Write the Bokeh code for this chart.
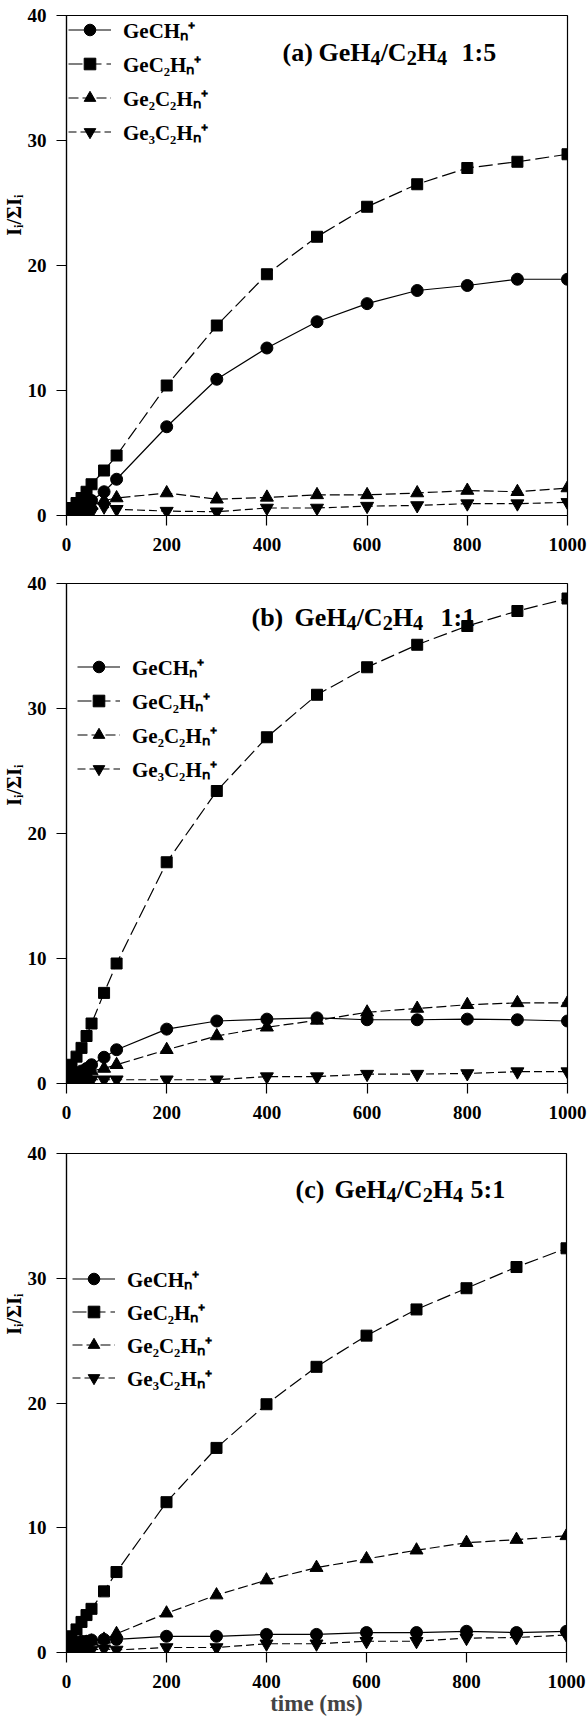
import math
from bokeh.plotting import figure
from bokeh.layouts import column
from bokeh.models import FixedTicker, Label, Legend, LegendItem, Title
from bokeh.embed import file_html
from bokeh.resources import INLINE

# ---------------- data ----------------
times = [0, 10, 20, 30, 40, 50, 75, 100, 200, 300, 400, 500, 600, 700, 800, 900, 1000]

series_names = ["GeCH\u2099\u207a", "GeC\u2082H\u2099\u207a", "Ge\u2082C\u2082H\u2099\u207a", "Ge\u2083C\u2082H\u2099\u207a"]

# (a) GeH4/C2H4 1:5
a_gech = [0.3, 0.4, 0.5, 0.7, 0.9, 1.2, 1.9, 2.9, 7.1, 10.9, 13.4, 15.5, 16.95, 18.0, 18.4, 18.9, 18.9]
a_gec2h = [0.4, 0.6, 1.0, 1.4, 1.9, 2.5, 3.6, 4.8, 10.4, 15.2, 19.3, 22.3, 24.7, 26.5, 27.8, 28.3, 28.9]
a_ge2c2h = [0.3, 0.4, 0.5, 0.6, 0.7, 0.8, 1.2, 1.4, 1.8, 1.3, 1.45, 1.65, 1.65, 1.8, 2.0, 1.9, 2.2]
a_ge3c2h = [0.1, 0.1, 0.2, 0.2, 0.3, 0.3, 0.7, 0.5, 0.35, 0.3, 0.6, 0.6, 0.75, 0.8, 0.95, 0.95, 1.05]

# (b) GeH4/C2H4 1:1
b_gech = [0.4, 0.6, 0.8, 1.0, 1.2, 1.5, 2.1, 2.7, 4.35, 5.0, 5.15, 5.25, 5.1, 5.1, 5.15, 5.1, 5.0]
b_gec2h = [0.9, 1.5, 2.15, 2.85, 3.8, 4.8, 7.25, 9.6, 17.7, 23.4, 27.7, 31.1, 33.3, 35.1, 36.6, 37.8, 38.8]
b_ge2c2h = [0.4, 0.5, 0.6, 0.7, 0.8, 1.0, 1.2, 1.5, 2.7, 3.8, 4.5, 5.05, 5.7, 6.0, 6.3, 6.45, 6.45]
b_ge3c2h = [0.1, 0.1, 0.2, 0.2, 0.2, 0.3, 0.3, 0.3, 0.3, 0.3, 0.55, 0.55, 0.75, 0.75, 0.8, 0.95, 0.95]

# (c) GeH4/C2H4 5:1
c_gech = [0.6, 0.7, 0.8, 0.9, 0.9, 1.0, 1.05, 1.05, 1.3, 1.3, 1.45, 1.45, 1.6, 1.6, 1.7, 1.6, 1.7]
c_gec2h = [0.8, 1.3, 1.85, 2.45, 3.0, 3.5, 4.9, 6.45, 12.05, 16.4, 19.9, 22.9, 25.4, 27.5, 29.2, 30.9, 32.4]
c_ge2c2h = [0.4, 0.5, 0.6, 0.7, 0.8, 0.9, 1.05, 1.5, 3.15, 4.6, 5.8, 6.8, 7.5, 8.2, 8.8, 9.05, 9.35]
c_ge3c2h = [0.1, 0.1, 0.1, 0.2, 0.2, 0.2, 0.3, 0.2, 0.4, 0.4, 0.7, 0.7, 0.9, 0.9, 1.15, 1.2, 1.4]

x_ticks = [0, 200, 400, 600, 800, 1000]
y_ticks = [0, 10, 20, 30, 40]

# title pieces: (text, is_subscript), in groups
formula = [("GeH", False), ("4", True), ("/C", False), ("2", True), ("H", False), ("4", True)]
title_groups_a = [[("(a)", False)], formula, [("1:5", False)]]
title_groups_b = [[("(b)", False)], formula, [("1:1", False)]]
title_groups_c = [[("(c)", False)], formula, [("5:1", False)]]
y_label = "I\u1d62/\u03a3I\u1d62"
x_label = "time (ms)"

# ---------------- styling ----------------
FONT = "Liberation Serif"
markers = ["circle", "square", "triangle", "inverted_triangle"]
msizes = [12, 11, 13, 13]
dashes = ["solid", "14 5", "10 4", "8 4"]

# advance widths (1/1000 em) of Times-compatible bold serif
ADV = {"(": 333, ")": 333, "a": 500, "b": 556, "c": 444, " ": 250, "G": 778, "e": 444,
       "H": 778, "C": 722, "/": 278, "1": 500, "2": 500, "4": 500, "5": 500, ":": 333}


def text_width(s, size):
    return sum(ADV.get(ch, 500) for ch in s) * size / 1000.0


def add_rich(p, groups, starts, baseline_below_top, size, sub_scale=0.78, sub_drop=0.22):
    for group, x0 in zip(groups, starts):
        x = x0
        for txt, sub in group:
            fs = size * sub_scale if sub else size
            dy = -baseline_below_top - (size * sub_drop if sub else 0)
            p.add_layout(Label(x=0, y=40, x_units="data", y_units="data", x_offset=x,
                               y_offset=dy, text=txt, text_font=FONT,
                               text_font_style="bold", text_font_size=f"{fs:.1f}px",
                               text_color="black", text_align="left",
                               text_baseline="alphabetic"))
            x += text_width(txt, fs)


def make_panel(series, title_groups, title_x, title_dy, ylab_from_top, legend_loc, legend_spacing,
               left, right, top, bottom, fw, fh, show_xlabel=False):
    p = figure(frame_width=fw, frame_height=fh, x_range=(0, 1000), y_range=(0, 40),
               min_border_left=left, min_border_right=right, min_border_top=top,
               min_border_bottom=bottom, output_backend="svg", toolbar_location=None,
               title=None)
    p.background_fill_color = "white"
    p.border_fill_color = "white"
    p.outline_line_color = "black"
    p.outline_line_width = 1.2
    p.grid.visible = False

    for ax, ticks in ((p.xaxis[0], x_ticks), (p.yaxis[0], y_ticks)):
        ax.ticker = FixedTicker(ticks=ticks)
        ax.major_tick_in = 0
        ax.major_tick_out = 10
        ax.minor_tick_line_color = None
        ax.axis_line_color = "black"
        ax.axis_line_width = 1.2
        ax.major_tick_line_width = 1.2
        ax.major_label_text_font = FONT
        ax.major_label_text_font_style = "bold"
        ax.major_label_text_font_size = "19px"
        ax.major_label_text_color = "black"
    p.xaxis.major_label_standoff = 12
    p.yaxis.major_label_standoff = 10

    if show_xlabel:
        p.xaxis.axis_label = x_label
        p.xaxis.axis_label_text_font = FONT
        p.xaxis.axis_label_text_font_style = "bold"
        p.xaxis.axis_label_text_font_size = "23px"
        p.xaxis.axis_label_standoff = 0

    items = []
    for name, ys, mk, ms, dash in zip(series_names, series, markers, msizes, dashes):
        rl = p.line(times, ys, line_color="black", line_width=1.2, line_dash=dash)
        rs = p.scatter(times, ys, marker=mk, size=ms, fill_color="black", line_color="black")
        items.append(LegendItem(label=name, renderers=[rl, rs]))

    legend = Legend(items=items, location=legend_loc, orientation="vertical",
                    glyph_width=43, glyph_height=29, label_height=29, label_standoff=12,
                    spacing=legend_spacing, padding=0, margin=0,
                    border_line_color=None, background_fill_alpha=0,
                    label_text_font=FONT, label_text_font_style="bold",
                    label_text_font_size="21px", label_text_color="black")
    p.add_layout(legend)

    add_rich(p, title_groups, title_x, title_dy, 26)

    # rotated y label; its upper end sits ylab_from_top px below the frame top
    p.add_layout(Title(text=y_label, align="right", offset=ylab_from_top, standoff=0,
                       text_font=FONT, text_font_style="bold", text_font_size="20px",
                       text_color="black"), "left")
    return p


pa = make_panel([a_gech, a_gec2h, a_ge2c2h, a_ge3c2h], title_groups_a, [216, 252, 395], 37,
                179, (2, 369), 5, 63, 23, 15, 45, 501, 500)
pb = make_panel([b_gech, b_gec2h, b_ge2c2h, b_ge3c2h], title_groups_b, [185, 228, 374], 34,
                181, (11, 300), 5, 64, 22, 23, 47, 501, 500)
pc = make_panel([c_gech, c_gec2h, c_ge2c2h, c_ge3c2h], title_groups_c, [229, 268, 404], 36,
                140, (6, 260), 4, 66, 21, 23, 79, 500, 499, show_xlabel=True)

layout = column(pa, pb, pc, spacing=0)
open("out.html", "w").write(file_html(layout, INLINE))
